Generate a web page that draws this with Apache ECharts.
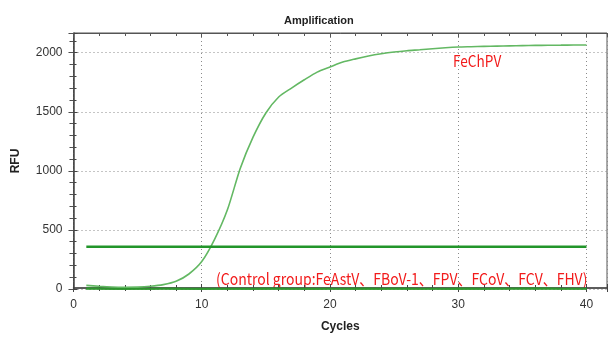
<!DOCTYPE html>
<html>
<head>
<meta charset="utf-8">
<script src="https://cdn.jsdelivr.net/npm/echarts@6/dist/echarts.min.js"></script>
<style>
  html, body { margin: 0; padding: 0; background: #fff; }
  #main { width: 611px; height: 338px; }
</style>
</head>
<body>
<div id="main"></div>
<script>
// cycles 1..40
const cycles = [1,2,3,4,5,6,7,8,9,10,11,12,13,14,15,16,17,18,19,20,21,22,23,24,25,26,27,28,29,30,31,32,33,34,35,36,37,38,39,40];
const fechpv = [31,23,17,15,16,23,37,65,127,232,420,670,1020,1285,1490,1625,1701,1771,1836,1879,1921,1948,1972,1991,2006,2017,2025,2034,2042,2048,2051,2054,2056,2058,2060,2062,2063,2064,2065,2065];
const threshold = 358;
// control group curves, all flat near 0
const ctrlA = [6,5,5,4,4,4,5,5,4,4,3,3,4,4,5,5,4,4,3,3,3,4,4,4,5,5,4,4,3,3,4,4,5,5,6,6,5,4,4,4];
const ctrlB = [2,2,1,1,1,1,2,2,2,1,1,1,0,0,1,1,1,2,2,2,1,1,1,0,0,1,1,2,2,2,1,1,1,2,2,3,3,2,2,2];
const ctrlC = [4,3,3,2,2,3,3,3,2,2,2,3,3,3,2,2,2,3,3,3,2,2,2,2,3,3,3,2,2,2,3,3,3,3,4,4,3,3,3,3];
const ctrlD = [0,0,-1,-1,0,0,0,-1,-1,-1,0,0,0,1,1,0,0,-1,-1,0,0,0,1,1,1,0,0,0,-1,-1,0,0,1,1,1,1,0,0,0,0];
const ctrlE = [8,7,6,6,5,5,6,6,6,5,5,5,6,6,6,5,5,5,6,6,6,7,7,6,6,5,5,6,6,7,7,6,6,6,7,8,7,6,6,6];
const ctrlF = [3,3,2,2,2,2,2,3,3,3,2,2,2,1,1,2,2,2,3,3,3,2,2,2,2,3,3,3,4,4,3,3,3,3,4,4,4,3,3,3];
const xTicks = [0, 10, 20, 30, 40];
const yTicks = [0, 500, 1000, 1500, 2000];

const pairs = vals => cycles.map((c, i) => [c, vals[i]]);
const ctrlColor = '#2e952e';
const ctrlSeries = [ctrlA, ctrlB, ctrlC, ctrlD, ctrlE, ctrlF].map((d, i) => ({
    name: 'ctrl' + i,
    type: 'line',
    data: pairs(d),
    symbol: 'none',
    clip: false,
    lineStyle: {color: ctrlColor, width: 1.2},
    z: 2
}));

const chart = echarts.init(document.getElementById('main'));

const dotted = {show: true, lineStyle: {color: '#8a8a8a', width: 1, type: [1, 3]}};
const baseX = {type: 'value', min: 0, max: 41.6, interval: 10};
const baseY = {type: 'value', min: 0, max: 2167, interval: 500};
const axisLabelFont = {fontFamily: 'Liberation Sans', fontSize: 12, color: '#333'};
const tickCol = '#444';

chart.setOption({
    animation: false,
    title: {
        text: 'Amplification',
        left: 279,
        top: 10,
        textStyle: {fontFamily: 'Liberation Sans', fontSize: 11, fontWeight: 'bold', color: '#222'}
    },
    grid: [
        // data grid: y = 0 sits 6px above the bottom of the frame
        {left: 73.5, right: 4, top: 33, bottom: 49},
        // frame grid: carries the x axis and the box
        {left: 73.5, right: 4, top: 33, bottom: 43, show: true, borderColor: '#555', borderWidth: 1}
    ],
    xAxis: [
        Object.assign({}, baseX, {gridIndex: 0, show: false}),
        Object.assign({}, baseX, {
            gridIndex: 1,
            position: 'bottom',
            name: 'Cycles',
            nameLocation: 'middle',
            nameGap: 33,
            nameTextStyle: {fontFamily: 'Liberation Sans', fontSize: 12, fontWeight: 'bold', color: '#222'},
            axisLine: {show: true, onZero: false, lineStyle: {color: tickCol, width: 1.5}},
            axisTick: {show: true, inside: false, length: 4, lineStyle: {color: tickCol}},
            minorTick: {show: true, splitNumber: 5, length: 3, lineStyle: {color: tickCol}},
            axisLabel: Object.assign({margin: 11, formatter: v => xTicks.includes(v) ? String(v) : ''}, axisLabelFont),
            splitLine: dotted
        }),
        Object.assign({}, baseX, {
            gridIndex: 1,
            position: 'top',
            axisLine: {show: true, onZero: false, lineStyle: {color: '#555'}},
            axisTick: {show: true, inside: true, length: 4, lineStyle: {color: '#555'}},
            minorTick: {show: true, splitNumber: 5, length: 3, lineStyle: {color: '#555'}},
            axisLabel: {show: false},
            splitLine: {show: false}
        }),
        Object.assign({}, baseX, {
            gridIndex: 1,
            position: 'bottom',
            axisLine: {show: false},
            axisTick: {show: true, inside: true, length: 4, lineStyle: {color: tickCol}},
            minorTick: {show: true, splitNumber: 5, length: 3, lineStyle: {color: tickCol}},
            axisLabel: {show: false},
            splitLine: {show: false}
        })
    ],
    yAxis: [
        Object.assign({}, baseY, {
            gridIndex: 0,
            position: 'left',
            name: 'RFU',
            nameLocation: 'middle',
            nameGap: 52,
            nameRotate: 90,
            nameTextStyle: {fontFamily: 'Liberation Sans', fontSize: 12, fontWeight: 'bold', color: '#222'},
            axisLine: {show: true, onZero: false, lineStyle: {color: tickCol, width: 1.5}},
            axisTick: {show: true, inside: false, length: 5, lineStyle: {color: tickCol}},
            minorTick: {show: true, splitNumber: 5, length: 4, lineStyle: {color: tickCol}},
            axisLabel: Object.assign({margin: 11, formatter: v => yTicks.includes(v) ? String(v) : ''}, axisLabelFont),
            splitLine: dotted
        }),
        Object.assign({}, baseY, {
            gridIndex: 0,
            position: 'right',
            axisLine: {show: false},
            axisTick: {show: true, inside: true, length: 4, lineStyle: {color: '#555'}},
            minorTick: {show: true, splitNumber: 5, length: 3, lineStyle: {color: '#555'}},
            axisLabel: {show: false},
            splitLine: {show: false}
        }),
        Object.assign({}, baseY, {
            gridIndex: 0,
            position: 'left',
            offset: 0.01,
            axisLine: {show: false},
            axisTick: {show: true, inside: true, length: 4, lineStyle: {color: tickCol}},
            minorTick: {show: true, splitNumber: 5, length: 3, lineStyle: {color: tickCol}},
            axisLabel: {show: false},
            splitLine: {show: false}
        }),
        {type: 'value', gridIndex: 1, show: false, min: 0, max: 1}
    ],
    series: [
        {
            name: 'FeChPV',
            type: 'line',
            data: pairs(fechpv),
            symbol: 'none',
            smooth: 0.25,
            clip: false,
            lineStyle: {color: '#63b863', width: 1.6},
            z: 3
        },
        {
            name: 'Threshold',
            type: 'line',
            data: [[cycles[0], threshold], [cycles[cycles.length - 1], threshold]],
            symbol: 'none',
            lineStyle: {color: '#22952a', width: 2.6},
            z: 4
        }
    ].concat(ctrlSeries),
    graphic: [
        {
            type: 'text',
            x: 453,
            y: 61,
            scaleX: 0.85,
            style: {text: 'FeChPV', fill: '#f21b1b', fontFamily: 'Noto Sans CJK SC', fontSize: 16, verticalAlign: 'middle', align: 'left'}
        },
        {
            type: 'text',
            x: 216,
            y: 279,
            scaleX: 0.875,
            style: {text: '(Control group:FeAstV、FBoV-1、FPV、FCoV、FCV、FHV)', fill: '#f21b1b', fontFamily: 'Noto Sans CJK SC', fontSize: 16, verticalAlign: 'middle', align: 'left'}
        }
    ]
});
</script>
</body>
</html>
